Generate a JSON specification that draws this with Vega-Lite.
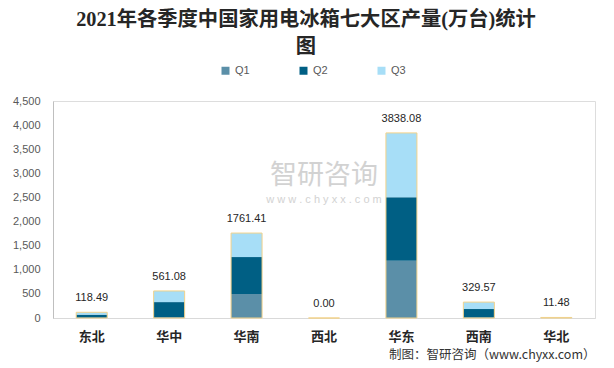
{
  "$schema": "https://vega.github.io/schema/vega-lite/v6.json",
  "width": 542,
  "height": 217,
  "autosize": {"type": "none"},
  "padding": {"left": 53, "top": 101, "right": 19, "bottom": 50},
  "background": "white",
  "title": {
    "text": ["2021年各季度中国家用电冰箱七大区产量(万台)统计", "图"],
    "font": "Liberation Serif, Noto Sans CJK SC",
    "fontSize": 20.3,
    "fontWeight": "bold",
    "color": "#262626",
    "anchor": "middle",
    "frame": "group",
    "dx": -18,
    "lineHeight": 27,
    "offset": 8
  },
  "config": {
    "axisY": {
      "title": null,
      "labelFont": "Liberation Sans",
      "labelFontSize": 11,
      "labelColor": "#595959",
      "labelPadding": 13,
      "ticks": false,
      "tickSize": 0,
      "domainColor": "#BFBFBF",
      "grid": false
    }
  },
  "datasets": {
    "parts": [
      {"region": "东北", "quarter": "Q1", "qo": 1, "value": 5},
      {"region": "东北", "quarter": "Q2", "qo": 2, "value": 65},
      {"region": "东北", "quarter": "Q3", "qo": 3, "value": 48.49},
      {"region": "华中", "quarter": "Q1", "qo": 1, "value": 20},
      {"region": "华中", "quarter": "Q2", "qo": 2, "value": 310},
      {"region": "华中", "quarter": "Q3", "qo": 3, "value": 231.08},
      {"region": "华南", "quarter": "Q1", "qo": 1, "value": 500},
      {"region": "华南", "quarter": "Q2", "qo": 2, "value": 763},
      {"region": "华南", "quarter": "Q3", "qo": 3, "value": 498.41},
      {"region": "西北", "quarter": "Q1", "qo": 1, "value": 0},
      {"region": "西北", "quarter": "Q2", "qo": 2, "value": 0},
      {"region": "西北", "quarter": "Q3", "qo": 3, "value": 0},
      {"region": "华东", "quarter": "Q1", "qo": 1, "value": 1185},
      {"region": "华东", "quarter": "Q2", "qo": 2, "value": 1320},
      {"region": "华东", "quarter": "Q3", "qo": 3, "value": 1333.08},
      {"region": "西南", "quarter": "Q1", "qo": 1, "value": 10},
      {"region": "西南", "quarter": "Q2", "qo": 2, "value": 176},
      {"region": "西南", "quarter": "Q3", "qo": 3, "value": 143.57},
      {"region": "华北", "quarter": "Q1", "qo": 1, "value": 3},
      {"region": "华北", "quarter": "Q2", "qo": 2, "value": 4},
      {"region": "华北", "quarter": "Q3", "qo": 3, "value": 4.48}
    ],
    "totals": [
      {"region": "东北", "total": 118.49},
      {"region": "华中", "total": 561.08},
      {"region": "华南", "total": 1761.41},
      {"region": "西北", "total": 0},
      {"region": "华东", "total": 3838.08},
      {"region": "西南", "total": 329.57},
      {"region": "华北", "total": 11.48}
    ]
  },
  "encoding": {
    "x": {
      "field": "region",
      "type": "nominal",
      "sort": ["东北", "华中", "华南", "西北", "华东", "西南", "华北"],
      "scale": {"paddingInner": 0.6, "paddingOuter": 0.3},
      "axis": {
        "title": "制图：智研咨询（www.chyxx.com）",
        "titleAnchor": "end",
        "titleFont": "Noto Sans CJK SC",
        "titleFontSize": 12.5,
        "titleFontWeight": "normal",
        "titleColor": "#333333",
        "titlePadding": 5,
        "labelAngle": 0,
        "labelFont": "Noto Sans CJK SC",
        "labelFontSize": 13,
        "labelFontWeight": "bold",
        "labelColor": "#262626",
        "labelPadding": 12,
        "ticks": false,
        "tickSize": 0,
        "domainColor": "#D9D9D9",
        "grid": false
      }
    }
  },
  "layer": [
    {
      "data": {"name": "parts"},
      "mark": {"type": "bar", "size": 31},
      "encoding": {
        "y": {
          "field": "value",
          "type": "quantitative",
          "stack": "zero",
          "scale": {"domain": [0, 4500]},
          "axis": {"values": [0, 500, 1000, 1500, 2000, 2500, 3000, 3500, 4000, 4500], "labelExpr": "format(datum.value, ',')"}
        },
        "order": {"field": "qo", "type": "quantitative", "sort": "ascending"},
        "color": {
          "field": "quarter",
          "type": "nominal",
          "scale": {"domain": ["Q1", "Q2", "Q3"], "range": ["#5B8FA8", "#005F84", "#A7DEF7"]},
          "legend": {
            "title": null,
            "orient": "none",
            "legendX": 167,
            "legendY": -36,
            "direction": "horizontal",
            "symbolType": "square",
            "symbolSize": 64,
            "symbolStrokeWidth": 0,
            "labelFont": "Liberation Sans",
            "labelFontSize": 11,
            "labelColor": "#595959",
            "columnPadding": 48
          }
        }
      }
    },
    {
      "data": {"name": "totals"},
      "mark": {"type": "bar", "size": 31, "fillOpacity": 0, "stroke": "#F2D28A", "strokeWidth": 1},
      "encoding": {
        "y": {"field": "total", "type": "quantitative", "axis": {"values": [0, 500, 1000, 1500, 2000, 2500, 3000, 3500, 4000, 4500], "labelExpr": "format(datum.value, ',')"}}
      }
    },
    {
      "data": {"name": "totals"},
      "mark": {"type": "text", "baseline": "bottom", "dy": -9, "font": "Liberation Sans", "fontSize": 11, "color": "#262626"},
      "encoding": {
        "y": {"field": "total", "type": "quantitative", "axis": {"values": [0, 500, 1000, 1500, 2000, 2500, 3000, 3500, 4000, 4500], "labelExpr": "format(datum.value, ',')"}},
        "text": {"field": "total", "type": "quantitative", "format": ".2f"}
      }
    },
    {
      "data": {"values": [{"t": "智研咨询"}]},
      "mark": {"type": "text", "font": "Noto Sans CJK SC", "fontSize": 27, "color": "#C8C8C8", "opacity": 0.8},
      "encoding": {
        "x": {"datum": "西北"},
        "y": {"datum": 2950, "type": "quantitative", "axis": {"values": [0, 500, 1000, 1500, 2000, 2500, 3000, 3500, 4000, 4500], "labelExpr": "format(datum.value, ',')"}},
        "text": {"field": "t"}
      }
    },
    {
      "data": {"values": [{"t": "w w w . c h y x x . c o m"}]},
      "mark": {"type": "text", "font": "Liberation Sans", "fontSize": 11, "color": "#C8C8C8", "opacity": 0.8},
      "encoding": {
        "x": {"datum": "西北"},
        "y": {"datum": 2440, "type": "quantitative", "axis": {"values": [0, 500, 1000, 1500, 2000, 2500, 3000, 3500, 4000, 4500], "labelExpr": "format(datum.value, ',')"}},
        "text": {"field": "t"}
      }
    }
  ]
}
